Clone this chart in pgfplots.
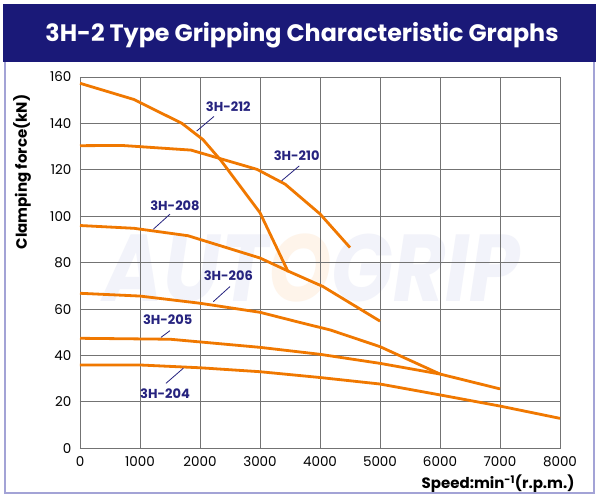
\documentclass[border=0pt]{standalone}
\usepackage{pgfplots}
\pgfplotsset{compat=1.18}
\usepackage{fontspec}
\setmainfont{Poppins}
\definecolor{navy}{HTML}{1A1978}
\definecolor{org}{HTML}{F07800}
\definecolor{lbl}{HTML}{26237F}
\definecolor{framec}{HTML}{A3A3D6}
\definecolor{wm}{HTML}{F2F3FA}
\definecolor{wmo}{HTML}{FEF4EA}
\begin{document}
\begin{tikzpicture}[x=1pt,y=1pt]
\fill[white] (0,0) rectangle (600,500);
\draw[framec, line width=1.2pt] (5,438) -- (5,7) -- (594,7) -- (594,438);
\fill[navy] (3,438) rectangle (596,496);
\node[white, font=\fontsize{23.8}{28}\selectfont\bfseries] at (302,465) {3H-2 Type Gripping Characteristic Graphs};
\node[font=\fontsize{95}{98}\selectfont\bfseries\itshape, xscale=0.85, inner sep=0] at (312,232) {\textcolor{wm}{AUT}\textcolor{wmo}{O}\textcolor{wm}{GRIP}};
\begin{axis}[
  at={(80pt,51.7pt)}, anchor=south west,
  scale only axis, width=480pt, height=371.3pt,
  xmin=0, xmax=8000, ymin=0, ymax=160,
  xtick={0,1000,...,8000}, ytick={0,20,...,160},
  grid=major, major tick length=0pt,
  grid style={color=black!55, line width=0.8pt},
  axis line style={color=black!55, line width=0.8pt},
  /pgf/number format/assume math mode=true,
  /pgf/number format/1000 sep={},
  ticklabel style={font=\fontsize{13.5}{15}\selectfont},
  yticklabel style={xshift=-5pt},
  xticklabel style={yshift=-5pt},
  every axis plot post/.append style={org, line width=2.8pt, line join=round, mark=none, solid},
  clip=false,
]
\addplot coordinates {(0,157.3) (900,150.3) (1700,140) (2050,133) (2350,124) (3000,101.5) (3470,76)};
\addplot coordinates {(0,130.4) (700,130.5) (1850,128.5) (2950,120.2) (3420,113.8) (4000,101) (4500,86.5)};
\addplot coordinates {(0,96) (900,94.8) (1800,91.6) (3000,82) (3500,76) (4050,69.7) (5000,54.8)};
\addplot coordinates {(0,66.8) (1000,65.6) (2000,62.5) (3000,58.6) (3700,54) (4170,51) (5000,43.8) (6000,32)};
\addplot coordinates {(0,47.4) (1500,47) (3000,43.5) (4000,40.5) (5000,36.6) (6000,32) (7000,25.6)};
\addplot coordinates {(0,35.9) (1000,35.9) (2000,34.7) (3000,33) (4000,30.5) (5000,27.7) (6000,23) (7000,18.2) (8000,12.9)};
\begin{scope}[lbl, line width=0.8pt]
\draw (axis cs:2233,143.0) -- (axis cs:1945,136.7);
\draw (axis cs:3655,121.7) -- (axis cs:3361,115.3);
\draw (axis cs:1500,100.9) -- (axis cs:1222,94.4);
\draw (axis cs:2500,69.7) -- (axis cs:2222,63.2);
\draw (axis cs:1500,50.7) -- (axis cs:1350,47.8);
\draw (axis cs:1433,28) -- (axis cs:1722,34.5);
\end{scope}
\begin{scope}[every node/.style={text=lbl, font=\fontsize{13}{15}\selectfont\bfseries}]
\node at (axis cs:2472,147) {3H-212};
\node at (axis cs:3611,126.2) {3H-210};
\node at (axis cs:1583,104.6) {3H-208};
\node at (axis cs:2472,74.4) {3H-206};
\node at (axis cs:1461,55.4) {3H-205};
\node at (axis cs:1417,23.5) {3H-204};
\end{scope}
\end{axis}
\node[anchor=base east, font=\fontsize{15}{17}\selectfont\bfseries] at (578,11) {Speed:min\textsuperscript{-1}(r.p.m.)};
\node[rotate=90, font=\fontsize{15}{17}\selectfont\bfseries] at (22,328) {Clamping force(kN)};
\end{tikzpicture}
\end{document}
